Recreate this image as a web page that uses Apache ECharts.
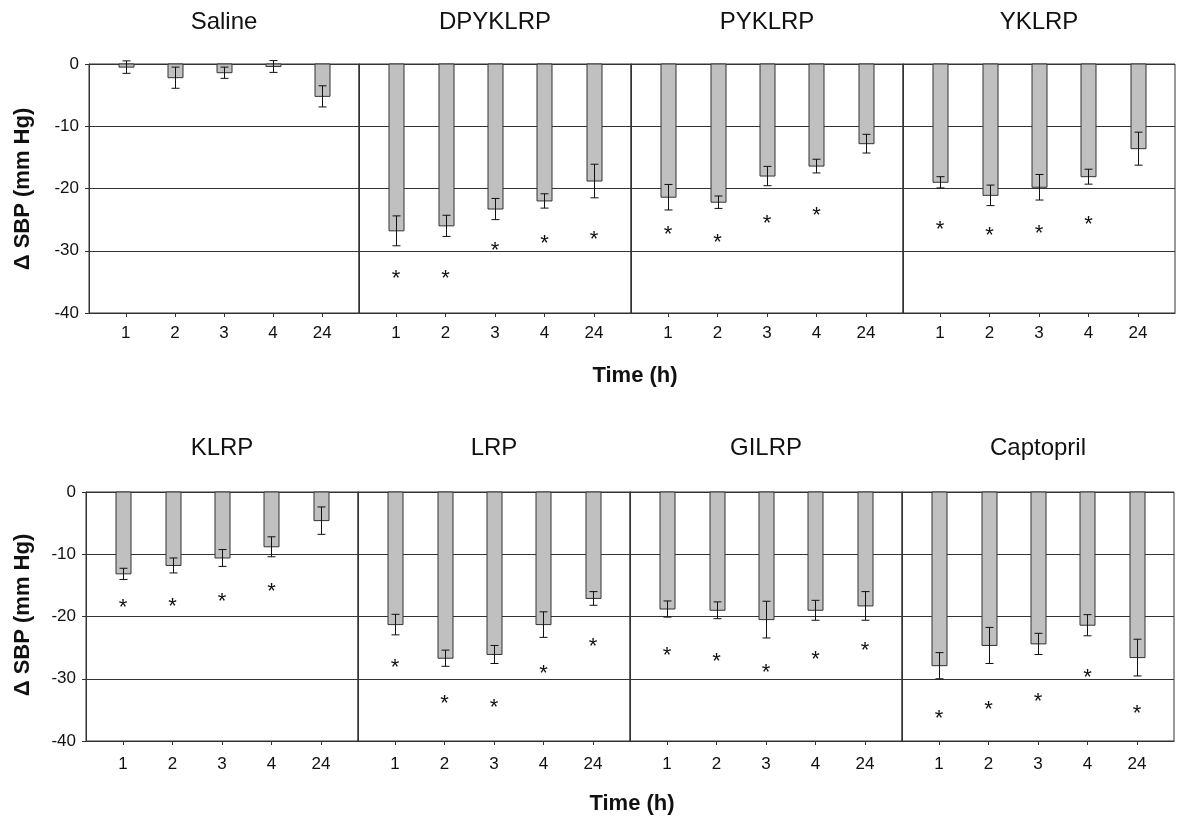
<!DOCTYPE html>
<html>
<head>
<meta charset="utf-8">
<script src="https://cdn.jsdelivr.net/npm/echarts@6/dist/echarts.min.js"></script>
<style>
html,body{margin:0;padding:0;background:#fff;}
#chart{width:1177px;height:824px;}
</style>
</head>
<body>
<div id="chart"></div>
<script>
// ---- data ----
const timeLabels = ['1', '2', '3', '4', '24'];
const panelNames = ['Saline', 'DPYKLRP', 'PYKLRP', 'YKLRP', 'KLRP', 'LRP', 'GILRP', 'Captopril'];
const yTicks = [0, -10, -20, -30, -40];

const salineMean = [-0.5, -2.2, -1.4, -0.4, -5.2];
const salineErr  = [1.0, 1.7, 0.9, 0.95, 1.7];
const salineStar = [null, null, null, null, null];

const dpyklrpMean = [-26.8, -26.0, -23.3, -22.0, -18.8];
const dpyklrpErr  = [2.4, 1.7, 1.7, 1.15, 2.7];
const dpyklrpStar = [-33.9, -33.9, -29.4, -28.2, -27.6];

const pyklrpMean = [-21.4, -22.2, -18.0, -16.4, -12.8];
const pyklrpErr  = [2.05, 1.0, 1.55, 1.1, 1.5];
const pyklrpStar = [-26.8, -28.1, -25.0, -23.7, null];

const yklrpMean = [-19.0, -21.1, -19.8, -18.1, -13.6];
const yklrpErr  = [0.9, 1.65, 2.05, 1.2, 2.65];
const yklrpStar = [-26.0, -26.9, -26.6, -25.2, null];

const klrpMean = [-13.15, -11.8, -10.6, -8.8, -4.6];
const klrpErr  = [0.9, 1.2, 1.35, 1.6, 2.2];
const klrpStar = [-18.0, -17.75, -16.95, -15.45, null];

const lrpMean = [-21.3, -26.7, -26.1, -21.3, -17.1];
const lrpErr  = [1.65, 1.3, 1.45, 2.05, 1.1];
const lrpStar = [-27.6, -33.4, -34.1, -28.6, -24.2];

const gilrpMean = [-18.8, -19.0, -20.5, -19.0, -18.3];
const gilrpErr  = [1.3, 1.35, 2.95, 1.6, 2.3];
const gilrpStar = [-25.7, -26.7, -28.5, -26.3, -24.9];

const captoprilMean = [-27.9, -24.65, -24.4, -21.4, -26.6];
const captoprilErr  = [2.1, 2.9, 1.7, 1.7, 2.95];
const captoprilStar = [-35.8, -34.4, -33.05, -29.25, -35.0];

const means = [salineMean, dpyklrpMean, pyklrpMean, yklrpMean, klrpMean, lrpMean, gilrpMean, captoprilMean];
const errs  = [salineErr, dpyklrpErr, pyklrpErr, yklrpErr, klrpErr, lrpErr, gilrpErr, captoprilErr];
const stars = [salineStar, dpyklrpStar, pyklrpStar, yklrpStar, klrpStar, lrpStar, gilrpStar, captoprilStar];

// ---- layout ----
const FONT = 'Liberation Sans, Arial, sans-serif';
const rowTop = [64, 492];
const gridH = 249;
const rowLefts = [[89, 359, 631, 903], [86, 358, 630, 902]];
const rowWidths = [[270, 272, 272, 272], [272, 272, 272, 272]];
const INK = '#333333';

const grids = [], xAxes = [], yAxes = [], series = [], titles = [];
const positions = [1, 2, 3, 4, 5];

for (let p = 0; p < 8; p++) {
  const row = Math.floor(p / 4), col = p % 4;
  const left = rowLefts[row][col], width = rowWidths[row][col];
  grids.push({left: left, top: rowTop[row], width: width, height: gridH,
    show: true, borderColor: INK, borderWidth: 1, backgroundColor: 'transparent'});
  xAxes.push({
    gridIndex: p, type: 'value', min: 0.25, max: 5.75,
    axisLine: {show: true, onZero: false, lineStyle: {color: INK, width: 1}},
    axisTick: {show: true, customValues: positions, length: 4, lineStyle: {color: INK}},
    axisLabel: {show: true, customValues: positions, formatter: v => timeLabels[Math.round(v) - 1],
      fontSize: 17, fontFamily: FONT, color: '#111', margin: row === 0 ? 12 : 15},
    splitLine: {show: false}
  });
  yAxes.push({
    gridIndex: p, type: 'value', min: -40, max: 0, interval: 10,
    axisLine: {show: true, onZero: false, lineStyle: {color: INK, width: 1}},
    axisTick: {show: col === 0, length: 4, lineStyle: {color: INK}},
    axisLabel: {show: col === 0, fontSize: 17, fontFamily: FONT, color: '#111', margin: 10},
    splitLine: {show: true, lineStyle: {color: INK, width: 1}}
  });
  titles.push({
    text: panelNames[p], left: left + width / 2, top: row === 0 ? 10 : 436, textAlign: 'center', padding: 0,
    textStyle: {fontSize: 24, fontWeight: 'normal', fontFamily: FONT, color: '#111'}
  });

  const barData = positions.map((x, i) => [x, means[p][i], errs[p][i]]);
  series.push({
    type: 'custom', xAxisIndex: p, yAxisIndex: p, data: barData, z: 3,
    renderItem: function (params, api) {
      const x = api.value(0), v = api.value(1), e = api.value(2);
      const top = api.coord([x, 0]);
      const bot = api.coord([x, v]);
      const hi = api.coord([x, v + e]);
      const lo = api.coord([x, v - e]);
      const bw = 15, cap = 4;
      const cx = Math.round(bot[0]) + 0.5;
      return {type: 'group', children: [
        {type: 'rect', shape: {x: cx - bw / 2, y: top[1], width: bw, height: bot[1] - top[1]},
          style: {fill: '#c0c0c0', stroke: INK, lineWidth: 1}},
        {type: 'line', shape: {x1: cx, y1: hi[1], x2: cx, y2: lo[1]}, style: {stroke: '#111', lineWidth: 1}},
        {type: 'line', shape: {x1: cx - cap, y1: hi[1], x2: cx + cap, y2: hi[1]}, style: {stroke: '#111', lineWidth: 1}},
        {type: 'line', shape: {x1: cx - cap, y1: lo[1], x2: cx + cap, y2: lo[1]}, style: {stroke: '#111', lineWidth: 1}}
      ]};
    }
  });

  const starData = [];
  positions.forEach((x, i) => { if (stars[p][i] !== null) starData.push([x, stars[p][i]]); });
  series.push({
    type: 'custom', xAxisIndex: p, yAxisIndex: p, data: starData, z: 4, clip: false,
    renderItem: function (params, api) {
      const pt = api.coord([api.value(0), api.value(1)]);
      return {type: 'text', style: {text: '*', x: pt[0], y: pt[1] + 4, align: 'center', verticalAlign: 'middle',
        fontSize: 22, fontFamily: FONT, fill: '#111'}};
    }
  });
}

const graphics = [
  {type: 'text', style: {text: 'Time (h)', x: 635, y: 376, align: 'center', verticalAlign: 'middle',
    fontSize: 22, fontWeight: 'bold', fontFamily: FONT, fill: '#111'}},
  {type: 'text', style: {text: 'Time (h)', x: 632, y: 804, align: 'center', verticalAlign: 'middle',
    fontSize: 22, fontWeight: 'bold', fontFamily: FONT, fill: '#111'}},
  {type: 'text', x: 23, y: 189, rotation: Math.PI / 2, style: {text: '\u0394 SBP (mm Hg)', x: 0, y: 0, align: 'center', verticalAlign: 'middle',
    fontSize: 22, fontWeight: 'bold', fontFamily: FONT, fill: '#111'}},
  {type: 'text', x: 23, y: 615, rotation: Math.PI / 2, style: {text: '\u0394 SBP (mm Hg)', x: 0, y: 0, align: 'center', verticalAlign: 'middle',
    fontSize: 22, fontWeight: 'bold', fontFamily: FONT, fill: '#111'}}
];

const chart = echarts.init(document.getElementById('chart'), null, {renderer: 'canvas'});
chart.setOption({
  animation: false,
  backgroundColor: '#fff',
  title: titles,
  grid: grids,
  xAxis: xAxes,
  yAxis: yAxes,
  series: series,
  graphic: graphics
});
</script>
</body>
</html>
